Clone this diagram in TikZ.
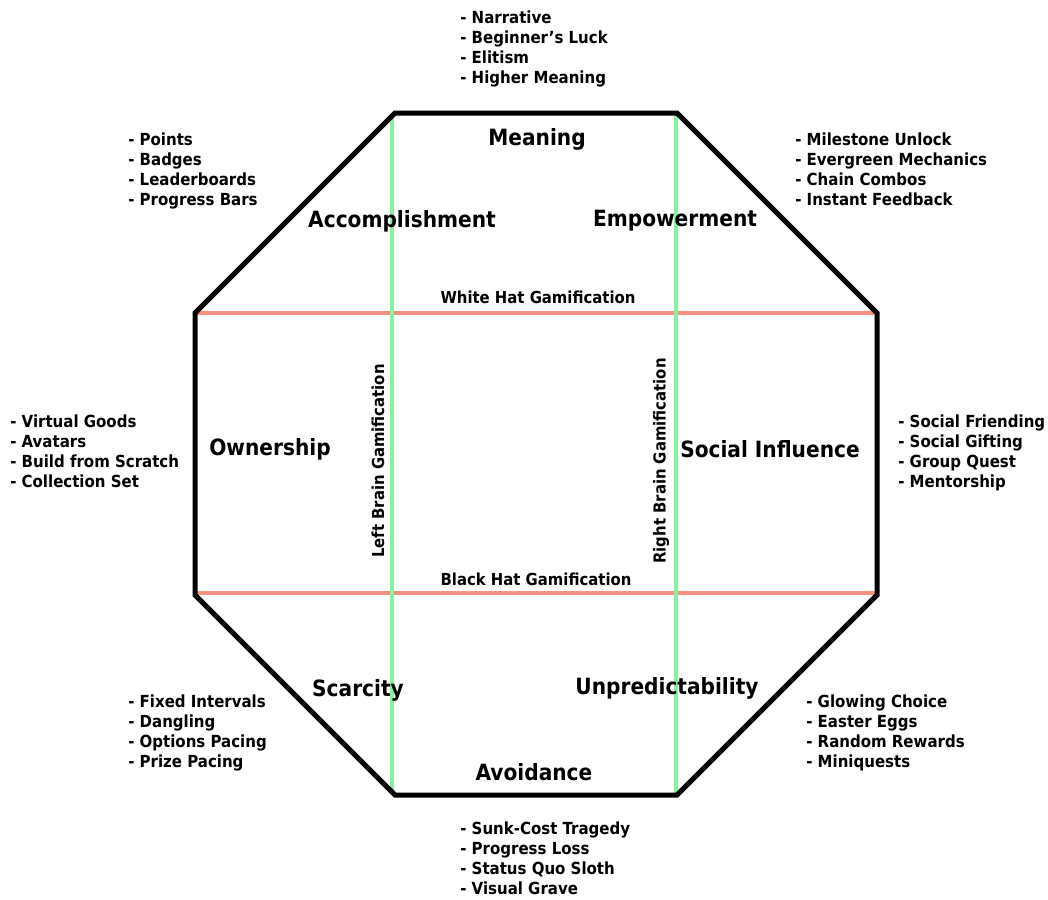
\documentclass[tikz,border=0pt]{standalone}
\usepackage{fontspec}
\setmainfont{DejaVu Sans Condensed}[BoldFont=DejaVu Sans Condensed Bold]
\definecolor{hatline}{RGB}{250,145,128}
\definecolor{brainline}{RGB}{136,240,160}
\begin{document}
\begin{tikzpicture}[x=0.75pt,y=-0.75pt,
  frame/.style={line width=3.75pt, line join=miter, draw=black},
  hat/.style={line width=3pt, draw=hatline},
  brain/.style={line width=3pt, draw=brainline},
  drive/.style={font=\bfseries\fontsize{16.8}{20}\selectfont, inner sep=0pt},
  axis/.style={font=\bfseries\fontsize{12.4}{14}\selectfont, inner sep=0pt},
  items/.style={font=\bfseries\fontsize{12.5}{15}\selectfont, align=left, inner sep=0pt, anchor=west,
    execute at begin node=\strut, execute at end node=\strut},
  lastitems/.style={items, execute at end node={}}]
\useasboundingbox (0,0) rectangle (1048,899);
% octagon corners
\coordinate (tl) at (395,113);
\coordinate (tr) at (677,113);
\coordinate (rt) at (877,313);
\coordinate (rb) at (877,595);
\coordinate (br) at (677,795);
\coordinate (bl) at (395,795);
\coordinate (lb) at (195,595);
\coordinate (lt) at (195,313);
% hat lines
\coordinate (wl) at (195,313); \coordinate (wr) at (877,313);
\coordinate (kl) at (195,593); \coordinate (kr) at (877,593);
\draw[hat] (wl) -- (wr);
\draw[hat] (kl) -- (kr);
% brain lines
\coordinate (lbt) at (392,115); \coordinate (lbb) at (392,793);
\coordinate (rbt) at (676,115); \coordinate (rbb) at (676,793);
\draw[brain] (lbt) -- (lbb);
\draw[brain] (rbt) -- (rbb);
% octagon outline
\draw[frame] (tl) -- (tr) -- (rt) -- (rb) -- (br) -- (bl) -- (lb) -- (lt) -- cycle;
% core drives
\node[drive] (meaning) at (537,139) {Meaning};
\node[drive] (accomp) at (402,221) {Accomplishment};
\node[drive] (empow) at (675,221) {Empowerment};
\node[drive] (owner) at (270,449) {Ownership};
\node[drive] (social) at (770,449) {Social Influence};
\node[drive] (scarce) at (358,690) {Scarcity};
\node[drive] (unpred) at (667,688) {Unpredictability};
\node[drive] (avoid) at (534,772) {Avoidance};
% axis labels
\node[axis] (white) at (538,297) {White Hat Gamification};
\node[axis] (black) at (536,579) {Black Hat Gamification};
\node[axis, rotate=90] (left) at (378,461) {Left Brain Gamification};
\node[axis, rotate=90] (right) at (661,461) {Right Brain Gamification};
% techniques
\node[items] (tmeaning) at (460,50) {- Narrative\\- Beginner’s Luck\\- Elitism\\- Higher Meaning};
\node[items] (taccomp) at (128,172) {- Points\\- Badges\\- Leaderboards\\- Progress Bars};
\node[items] (tempow) at (795,172) {- Milestone Unlock\\- Evergreen Mechanics\\- Chain Combos\\- Instant Feedback};
\node[items] (towner) at (10,454) {- Virtual Goods\\- Avatars\\- Build from Scratch\\- Collection Set};
\node[items] (tsocial) at (898,454) {- Social Friending\\- Social Gifting\\- Group Quest\\- Mentorship};
\node[items] (tscarce) at (128,734) {- Fixed Intervals\\- Dangling\\- Options Pacing\\- Prize Pacing};
\node[items] (tunpred) at (806,734) {- Glowing Choice\\- Easter Eggs\\- Random Rewards\\- Miniquests};
\node[lastitems] (tavoid) at (460,861) {- Sunk-Cost Tragedy\\- Progress Loss\\- Status Quo Sloth\\- Visual Grave};
\end{tikzpicture}
\end{document}
